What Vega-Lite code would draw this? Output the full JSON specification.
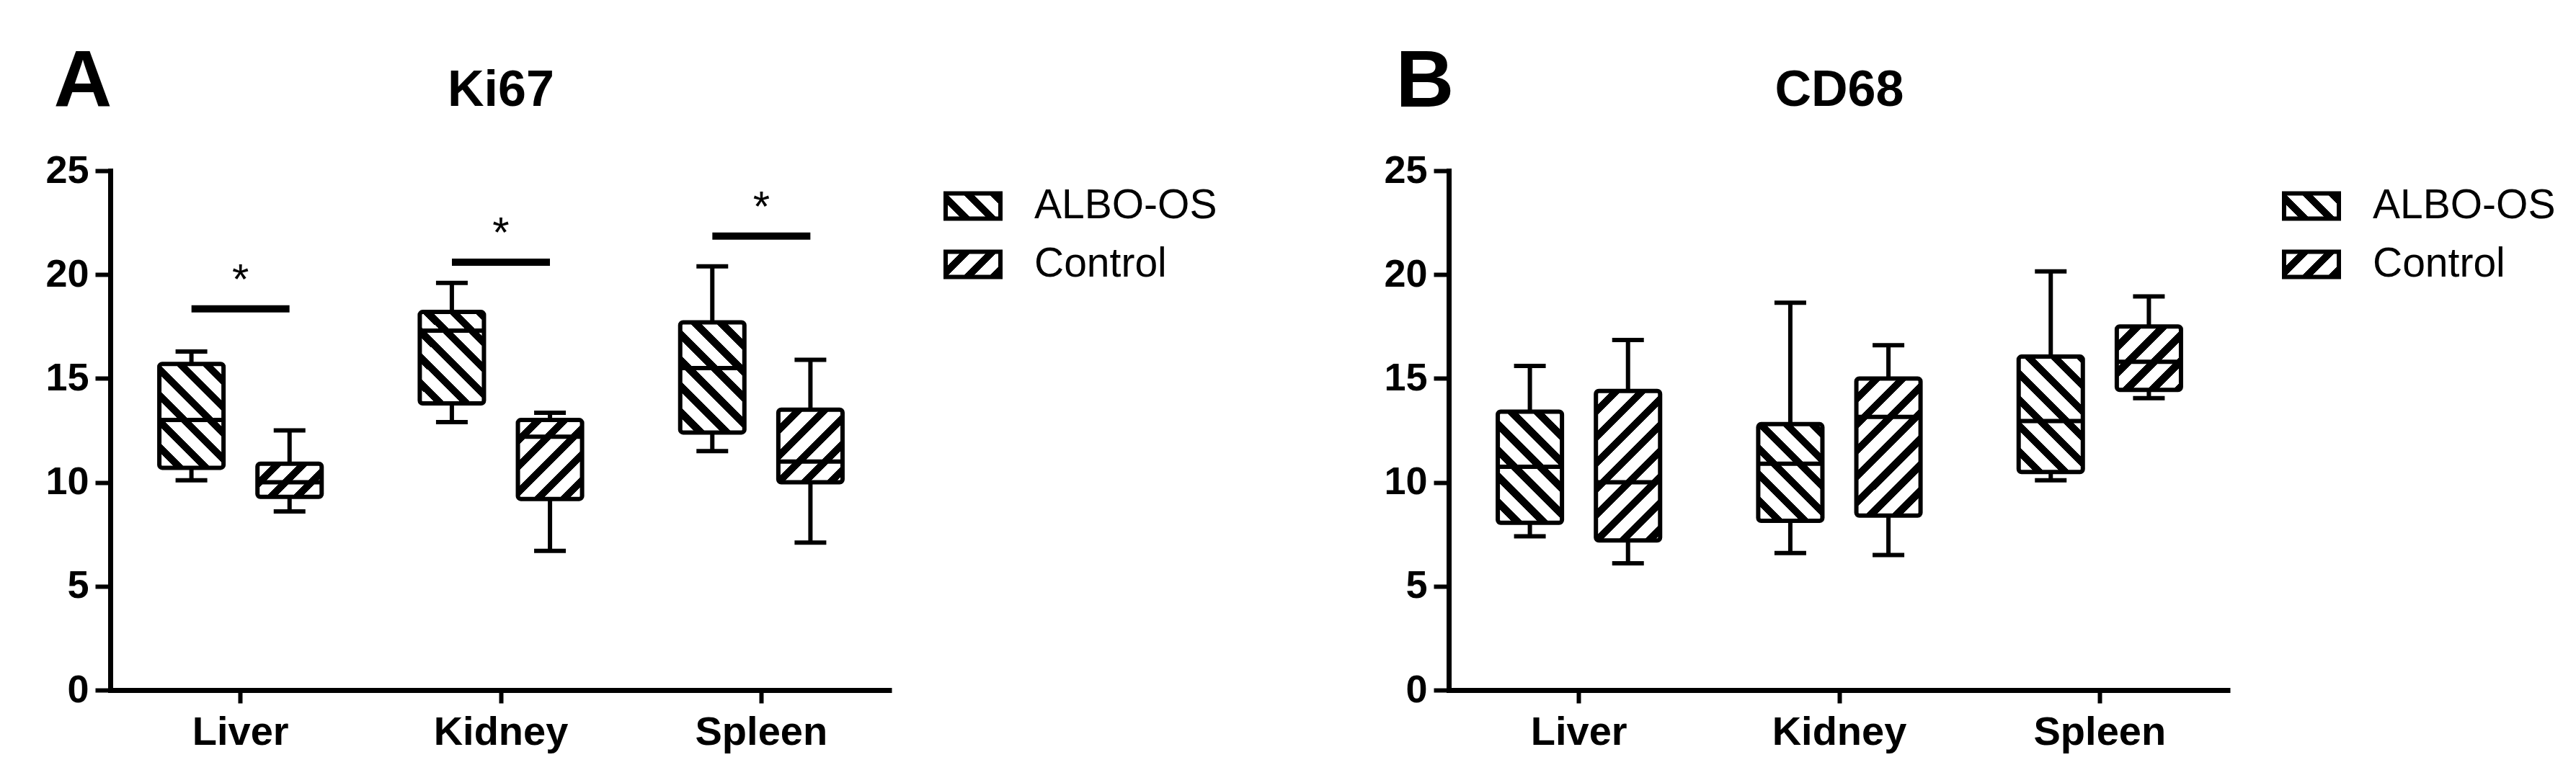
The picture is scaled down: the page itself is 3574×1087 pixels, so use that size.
{
"$schema":"https://vega.github.io/schema/vega-lite/v6.json",
"background":"white",
"padding":{"left":62,"top":57,"right":5,"bottom":5},
"spacing":222,
"config":{"font":"Liberation Sans","view":{"stroke":null},"axis":{"grid":false}},
"resolve":{"scale":{"fill":"independent","x":"independent","y":"independent","xOffset":"independent"},"legend":{"fill":"independent"}},
"datasets":{
"boxesA":[
{"organ":"Liver","group":"ALBO-OS","min":10.1,"q1":10.7,"median":13.0,"q3":15.7,"max":16.3},
{"organ":"Liver","group":"Control","min":8.6,"q1":9.3,"median":10.0,"q3":10.9,"max":12.5},
{"organ":"Kidney","group":"ALBO-OS","min":12.9,"q1":13.8,"median":17.3,"q3":18.2,"max":19.6},
{"organ":"Kidney","group":"Control","min":6.7,"q1":9.2,"median":12.2,"q3":13.0,"max":13.35},
{"organ":"Spleen","group":"ALBO-OS","min":11.5,"q1":12.4,"median":15.5,"q3":17.7,"max":20.4},
{"organ":"Spleen","group":"Control","min":7.1,"q1":10.0,"median":11.0,"q3":13.5,"max":15.9}
],
"boxesB":[
{"organ":"Liver","group":"ALBO-OS","min":7.4,"q1":8.05,"median":10.75,"q3":13.4,"max":15.6},
{"organ":"Liver","group":"Control","min":6.1,"q1":7.2,"median":10.0,"q3":14.4,"max":16.85},
{"organ":"Kidney","group":"ALBO-OS","min":6.6,"q1":8.15,"median":10.9,"q3":12.8,"max":18.65},
{"organ":"Kidney","group":"Control","min":6.5,"q1":8.4,"median":13.15,"q3":15.0,"max":16.6},
{"organ":"Spleen","group":"ALBO-OS","min":10.1,"q1":10.5,"median":12.95,"q3":16.05,"max":20.15},
{"organ":"Spleen","group":"Control","min":14.05,"q1":14.45,"median":15.8,"q3":17.5,"max":18.95}
],
"sigA":[
{"organ":"Liver","sig":18.35,"label":"*"},
{"organ":"Kidney","sig":20.6,"label":"*"},
{"organ":"Spleen","sig":21.85,"label":"*"}
]
},
"hconcat":[
{
"width":1084,"height":721,
"title":{"text":"Ki67","fontSize":70,"fontWeight":"bold","color":"black","baseline":"alphabetic","offset":-160,"anchor":"middle","frame":"group"},
"data":{"name":"boxesA"},
"encoding":{
"x":{"field":"organ","type":"nominal","sort":["Liver","Kidney","Spleen"],"scale":{"paddingInner":0,"paddingOuter":0},
"axis":{"title":null,"labelAngle":0,"labelLimit":500,"domainColor":"black","domainWidth":7,"tickColor":"black","tickWidth":6,"tickSize":18,"labelPadding":13,"labelFontSize":56,"labelFontWeight":"bold","labelColor":"black","labelFont":"Liberation Sans"}}
},
"layer":[
{"mark":{"type":"rule","color":"black","strokeWidth":6},
"encoding":{"xOffset":{"field":"group","type":"nominal","sort":["ALBO-OS","Control"],"scale":{"paddingInner":0.346,"paddingOuter":0.5}},
"y":{"field":"min","type":"quantitative","scale":{"domain":[0,25],"nice":false,"zero":true},
"axis":{"title":"A","titleAngle":0,"titleX":-79,"titleY":-90,"titleAlign":"left","titleBaseline":"alphabetic","titleFontSize":112,"titleFontWeight":"bold","titleColor":"black","titleFont":"Liberation Sans","values":[0,5,10,15,20,25],"domainColor":"black","domainWidth":7,"domainCap":"square","tickColor":"black","tickWidth":6,"tickSize":21,"labelPadding":9,"labelFontSize":54,"labelFontWeight":"bold","labelColor":"black","labelFont":"Liberation Sans"}},
"y2":{"field":"max"}}},
{"mark":{"type":"tick","color":"black","size":44,"thickness":6,"opacity":1},
"encoding":{"xOffset":{"field":"group","type":"nominal","sort":["ALBO-OS","Control"]},"y":{"field":"min","type":"quantitative"}}},
{"mark":{"type":"tick","color":"black","size":44,"thickness":6,"opacity":1},
"encoding":{"xOffset":{"field":"group","type":"nominal","sort":["ALBO-OS","Control"]},"y":{"field":"max","type":"quantitative"}}},
{"mark":{"type":"bar","stroke":"black","strokeWidth":6,"cornerRadius":4,"opacity":1},
"encoding":{"xOffset":{"field":"group","type":"nominal","sort":["ALBO-OS","Control"]},"y":{"field":"q1","type":"quantitative"},"y2":{"field":"q3"},
"fill":{"field":"group","type":"nominal","sort":["ALBO-OS","Control"],
"scale":{"range":[{"expr":"{gradient:'linear',x1:0,y1:1,x2:3.2567,y2:-0.4998,stops:[{offset:0,color:'#fff'},{offset:0.072,color:'#fff'},{offset:0.072,color:'#000'},{offset:0.12,color:'#000'},{offset:0.12,color:'#fff'},{offset:0.192,color:'#fff'},{offset:0.192,color:'#000'},{offset:0.24,color:'#000'},{offset:0.24,color:'#fff'},{offset:0.312,color:'#fff'},{offset:0.312,color:'#000'},{offset:0.36,color:'#000'},{offset:0.36,color:'#fff'},{offset:1,color:'#fff'}]}"},{"expr":"{gradient:'linear',x1:0,y1:0,x2:3.2567,y2:1.4998,stops:[{offset:0,color:'#fff'},{offset:0.072,color:'#fff'},{offset:0.072,color:'#000'},{offset:0.12,color:'#000'},{offset:0.12,color:'#fff'},{offset:0.192,color:'#fff'},{offset:0.192,color:'#000'},{offset:0.24,color:'#000'},{offset:0.24,color:'#fff'},{offset:0.312,color:'#fff'},{offset:0.312,color:'#000'},{offset:0.36,color:'#000'},{offset:0.36,color:'#fff'},{offset:1,color:'#fff'}]}"}]},
"legend":{"title":null,"orient":"right","offset":64,"padding":8,"symbolType":"M-1,-0.46H1V0.46H-1Z","symbolSize":5776,"symbolStrokeColor":"black","symbolStrokeWidth":6,"symbolOpacity":1,"labelFontSize":57,"labelFont":"Liberation Sans","labelColor":"black","labelOffset":44,"labelLimit":600,"rowPadding":10},
"condition":[
{"test":"datum.organ==='Liver'&&datum.group==='ALBO-OS'","value":{"gradient":"linear","x1":0,"y1":1,"x2":0.9298,"y2":-0.5065,"stops":[{"offset":0,"color":"#fff"},{"offset":0.072,"color":"#fff"},{"offset":0.072,"color":"#000"},{"offset":0.12,"color":"#000"},{"offset":0.12,"color":"#fff"},{"offset":0.192,"color":"#fff"},{"offset":0.192,"color":"#000"},{"offset":0.24,"color":"#000"},{"offset":0.24,"color":"#fff"},{"offset":0.312,"color":"#fff"},{"offset":0.312,"color":"#000"},{"offset":0.36,"color":"#000"},{"offset":0.36,"color":"#fff"},{"offset":0.432,"color":"#fff"},{"offset":0.432,"color":"#000"},{"offset":0.48,"color":"#000"},{"offset":0.48,"color":"#fff"},{"offset":0.552,"color":"#fff"},{"offset":0.552,"color":"#000"},{"offset":0.6,"color":"#000"},{"offset":0.6,"color":"#fff"},{"offset":0.672,"color":"#fff"},{"offset":0.672,"color":"#000"},{"offset":0.72,"color":"#000"},{"offset":0.72,"color":"#fff"},{"offset":0.792,"color":"#fff"},{"offset":0.792,"color":"#000"},{"offset":0.84,"color":"#000"},{"offset":0.84,"color":"#fff"},{"offset":0.912,"color":"#fff"},{"offset":0.912,"color":"#000"},{"offset":0.96,"color":"#000"},{"offset":0.96,"color":"#fff"},{"offset":1,"color":"#fff"}]}},
{"test":"datum.organ==='Liver'&&datum.group==='Control'","value":{"gradient":"linear","x1":0,"y1":0,"x2":2.6578,"y2":1.3767,"stops":[{"offset":0,"color":"#fff"},{"offset":0.072,"color":"#fff"},{"offset":0.072,"color":"#000"},{"offset":0.12,"color":"#000"},{"offset":0.12,"color":"#fff"},{"offset":0.192,"color":"#fff"},{"offset":0.192,"color":"#000"},{"offset":0.24,"color":"#000"},{"offset":0.24,"color":"#fff"},{"offset":0.312,"color":"#fff"},{"offset":0.312,"color":"#000"},{"offset":0.36,"color":"#000"},{"offset":0.36,"color":"#fff"},{"offset":0.432,"color":"#fff"},{"offset":0.432,"color":"#000"},{"offset":0.48,"color":"#000"},{"offset":0.48,"color":"#fff"},{"offset":0.552,"color":"#fff"},{"offset":0.552,"color":"#000"},{"offset":0.6,"color":"#000"},{"offset":0.6,"color":"#fff"},{"offset":1,"color":"#fff"}]}},
{"test":"datum.organ==='Kidney'&&datum.group==='ALBO-OS'","value":{"gradient":"linear","x1":0,"y1":1,"x2":1.1113,"y2":-0.5846,"stops":[{"offset":0,"color":"#fff"},{"offset":0.072,"color":"#fff"},{"offset":0.072,"color":"#000"},{"offset":0.12,"color":"#000"},{"offset":0.12,"color":"#fff"},{"offset":0.192,"color":"#fff"},{"offset":0.192,"color":"#000"},{"offset":0.24,"color":"#000"},{"offset":0.24,"color":"#fff"},{"offset":0.312,"color":"#fff"},{"offset":0.312,"color":"#000"},{"offset":0.36,"color":"#000"},{"offset":0.36,"color":"#fff"},{"offset":0.432,"color":"#fff"},{"offset":0.432,"color":"#000"},{"offset":0.48,"color":"#000"},{"offset":0.48,"color":"#fff"},{"offset":0.552,"color":"#fff"},{"offset":0.552,"color":"#000"},{"offset":0.6,"color":"#000"},{"offset":0.6,"color":"#fff"},{"offset":0.672,"color":"#fff"},{"offset":0.672,"color":"#000"},{"offset":0.72,"color":"#000"},{"offset":0.72,"color":"#fff"},{"offset":1,"color":"#fff"}]}},
{"test":"datum.organ==='Kidney'&&datum.group==='Control'","value":{"gradient":"linear","x1":0,"y1":0,"x2":1.3395,"y2":1.6495,"stops":[{"offset":0,"color":"#fff"},{"offset":0.072,"color":"#fff"},{"offset":0.072,"color":"#000"},{"offset":0.12,"color":"#000"},{"offset":0.12,"color":"#fff"},{"offset":0.192,"color":"#fff"},{"offset":0.192,"color":"#000"},{"offset":0.24,"color":"#000"},{"offset":0.24,"color":"#fff"},{"offset":0.312,"color":"#fff"},{"offset":0.312,"color":"#000"},{"offset":0.36,"color":"#000"},{"offset":0.36,"color":"#fff"},{"offset":0.432,"color":"#fff"},{"offset":0.432,"color":"#000"},{"offset":0.48,"color":"#000"},{"offset":0.48,"color":"#fff"},{"offset":0.552,"color":"#fff"},{"offset":0.552,"color":"#000"},{"offset":0.6,"color":"#000"},{"offset":0.6,"color":"#fff"},{"offset":0.672,"color":"#fff"},{"offset":0.672,"color":"#000"},{"offset":0.72,"color":"#000"},{"offset":0.72,"color":"#fff"},{"offset":1,"color":"#fff"}]}},
{"test":"datum.organ==='Spleen'&&datum.group==='ALBO-OS'","value":{"gradient":"linear","x1":0,"y1":1,"x2":0.8531,"y2":-0.4655,"stops":[{"offset":0,"color":"#fff"},{"offset":0.072,"color":"#fff"},{"offset":0.072,"color":"#000"},{"offset":0.12,"color":"#000"},{"offset":0.12,"color":"#fff"},{"offset":0.192,"color":"#fff"},{"offset":0.192,"color":"#000"},{"offset":0.24,"color":"#000"},{"offset":0.24,"color":"#fff"},{"offset":0.312,"color":"#fff"},{"offset":0.312,"color":"#000"},{"offset":0.36,"color":"#000"},{"offset":0.36,"color":"#fff"},{"offset":0.432,"color":"#fff"},{"offset":0.432,"color":"#000"},{"offset":0.48,"color":"#000"},{"offset":0.48,"color":"#fff"},{"offset":0.552,"color":"#fff"},{"offset":0.552,"color":"#000"},{"offset":0.6,"color":"#000"},{"offset":0.6,"color":"#fff"},{"offset":0.672,"color":"#fff"},{"offset":0.672,"color":"#000"},{"offset":0.72,"color":"#000"},{"offset":0.72,"color":"#fff"},{"offset":0.792,"color":"#fff"},{"offset":0.792,"color":"#000"},{"offset":0.84,"color":"#000"},{"offset":0.84,"color":"#fff"},{"offset":1,"color":"#fff"}]}},
{"test":"datum.organ==='Spleen'&&datum.group==='Control'","value":{"gradient":"linear","x1":0,"y1":0,"x2":1.475,"y2":1.6722,"stops":[{"offset":0,"color":"#fff"},{"offset":0.072,"color":"#fff"},{"offset":0.072,"color":"#000"},{"offset":0.12,"color":"#000"},{"offset":0.12,"color":"#fff"},{"offset":0.192,"color":"#fff"},{"offset":0.192,"color":"#000"},{"offset":0.24,"color":"#000"},{"offset":0.24,"color":"#fff"},{"offset":0.312,"color":"#fff"},{"offset":0.312,"color":"#000"},{"offset":0.36,"color":"#000"},{"offset":0.36,"color":"#fff"},{"offset":0.432,"color":"#fff"},{"offset":0.432,"color":"#000"},{"offset":0.48,"color":"#000"},{"offset":0.48,"color":"#fff"},{"offset":0.552,"color":"#fff"},{"offset":0.552,"color":"#000"},{"offset":0.6,"color":"#000"},{"offset":0.6,"color":"#fff"},{"offset":0.672,"color":"#fff"},{"offset":0.672,"color":"#000"},{"offset":0.72,"color":"#000"},{"offset":0.72,"color":"#fff"},{"offset":1,"color":"#fff"}]}}
]}}},
{"mark":{"type":"tick","color":"black","size":89,"thickness":6,"opacity":1},
"encoding":{"xOffset":{"field":"group","type":"nominal","sort":["ALBO-OS","Control"]},"y":{"field":"median","type":"quantitative"}}},
{"data":{"name":"sigA"},"mark":{"type":"tick","color":"black","size":136,"thickness":10,"opacity":1},
"encoding":{"y":{"field":"sig","type":"quantitative"}}},
{"data":{"name":"sigA"},"mark":{"type":"text","color":"black","fontSize":60,"baseline":"alphabetic","align":"center","dy":-21,"font":"Liberation Sans"},
"encoding":{"y":{"field":"sig","type":"quantitative"},"text":{"field":"label"}}}
]
},
{
"width":1084,"height":721,
"title":{"text":"CD68","fontSize":70,"fontWeight":"bold","color":"black","baseline":"alphabetic","offset":-160,"anchor":"middle","frame":"group"},
"data":{"name":"boxesB"},
"encoding":{
"x":{"field":"organ","type":"nominal","sort":["Liver","Kidney","Spleen"],"scale":{"paddingInner":0,"paddingOuter":0},
"axis":{"title":null,"labelAngle":0,"labelLimit":500,"domainColor":"black","domainWidth":7,"tickColor":"black","tickWidth":6,"tickSize":18,"labelPadding":13,"labelFontSize":56,"labelFontWeight":"bold","labelColor":"black","labelFont":"Liberation Sans"}}
},
"layer":[
{"mark":{"type":"rule","color":"black","strokeWidth":6},
"encoding":{"xOffset":{"field":"group","type":"nominal","sort":["ALBO-OS","Control"],"scale":{"paddingInner":0.346,"paddingOuter":0.5}},
"y":{"field":"min","type":"quantitative","scale":{"domain":[0,25],"nice":false,"zero":true},
"axis":{"title":"B","titleAngle":0,"titleX":-74,"titleY":-90,"titleAlign":"left","titleBaseline":"alphabetic","titleFontSize":112,"titleFontWeight":"bold","titleColor":"black","titleFont":"Liberation Sans","values":[0,5,10,15,20,25],"domainColor":"black","domainWidth":7,"domainCap":"square","tickColor":"black","tickWidth":6,"tickSize":21,"labelPadding":9,"labelFontSize":54,"labelFontWeight":"bold","labelColor":"black","labelFont":"Liberation Sans"}},
"y2":{"field":"max"}}},
{"mark":{"type":"tick","color":"black","size":44,"thickness":6,"opacity":1},
"encoding":{"xOffset":{"field":"group","type":"nominal","sort":["ALBO-OS","Control"]},"y":{"field":"min","type":"quantitative"}}},
{"mark":{"type":"tick","color":"black","size":44,"thickness":6,"opacity":1},
"encoding":{"xOffset":{"field":"group","type":"nominal","sort":["ALBO-OS","Control"]},"y":{"field":"max","type":"quantitative"}}},
{"mark":{"type":"bar","stroke":"black","strokeWidth":6,"cornerRadius":4,"opacity":1},
"encoding":{"xOffset":{"field":"group","type":"nominal","sort":["ALBO-OS","Control"]},"y":{"field":"q1","type":"quantitative"},"y2":{"field":"q3"},
"fill":{"field":"group","type":"nominal","sort":["ALBO-OS","Control"],
"scale":{"range":[{"expr":"{gradient:'linear',x1:0,y1:1,x2:3.2567,y2:-0.4998,stops:[{offset:0,color:'#fff'},{offset:0.072,color:'#fff'},{offset:0.072,color:'#000'},{offset:0.12,color:'#000'},{offset:0.12,color:'#fff'},{offset:0.192,color:'#fff'},{offset:0.192,color:'#000'},{offset:0.24,color:'#000'},{offset:0.24,color:'#fff'},{offset:0.312,color:'#fff'},{offset:0.312,color:'#000'},{offset:0.36,color:'#000'},{offset:0.36,color:'#fff'},{offset:1,color:'#fff'}]}"},{"expr":"{gradient:'linear',x1:0,y1:0,x2:3.2567,y2:1.4998,stops:[{offset:0,color:'#fff'},{offset:0.072,color:'#fff'},{offset:0.072,color:'#000'},{offset:0.12,color:'#000'},{offset:0.12,color:'#fff'},{offset:0.192,color:'#fff'},{offset:0.192,color:'#000'},{offset:0.24,color:'#000'},{offset:0.24,color:'#fff'},{offset:0.312,color:'#fff'},{offset:0.312,color:'#000'},{offset:0.36,color:'#000'},{offset:0.36,color:'#fff'},{offset:1,color:'#fff'}]}"}]},
"legend":{"title":null,"orient":"right","offset":64,"padding":8,"symbolType":"M-1,-0.46H1V0.46H-1Z","symbolSize":5776,"symbolStrokeColor":"black","symbolStrokeWidth":6,"symbolOpacity":1,"labelFontSize":57,"labelFont":"Liberation Sans","labelColor":"black","labelOffset":44,"labelLimit":600,"rowPadding":10},
"condition":[
{"test":"datum.organ==='Liver'&&datum.group==='ALBO-OS'","value":{"gradient":"linear","x1":0,"y1":1,"x2":0.8415,"y2":-0.4589,"stops":[{"offset":0,"color":"#fff"},{"offset":0.072,"color":"#fff"},{"offset":0.072,"color":"#000"},{"offset":0.12,"color":"#000"},{"offset":0.12,"color":"#fff"},{"offset":0.192,"color":"#fff"},{"offset":0.192,"color":"#000"},{"offset":0.24,"color":"#000"},{"offset":0.24,"color":"#fff"},{"offset":0.312,"color":"#fff"},{"offset":0.312,"color":"#000"},{"offset":0.36,"color":"#000"},{"offset":0.36,"color":"#fff"},{"offset":0.432,"color":"#fff"},{"offset":0.432,"color":"#000"},{"offset":0.48,"color":"#000"},{"offset":0.48,"color":"#fff"},{"offset":0.552,"color":"#fff"},{"offset":0.552,"color":"#000"},{"offset":0.6,"color":"#000"},{"offset":0.6,"color":"#fff"},{"offset":0.672,"color":"#fff"},{"offset":0.672,"color":"#000"},{"offset":0.72,"color":"#000"},{"offset":0.72,"color":"#fff"},{"offset":0.792,"color":"#fff"},{"offset":0.792,"color":"#000"},{"offset":0.84,"color":"#000"},{"offset":0.84,"color":"#fff"},{"offset":1,"color":"#fff"}]}},
{"test":"datum.organ==='Liver'&&datum.group==='Control'","value":{"gradient":"linear","x1":0,"y1":0,"x2":0.5233,"y2":1.2207,"stops":[{"offset":0,"color":"#fff"},{"offset":0.072,"color":"#fff"},{"offset":0.072,"color":"#000"},{"offset":0.12,"color":"#000"},{"offset":0.12,"color":"#fff"},{"offset":0.192,"color":"#fff"},{"offset":0.192,"color":"#000"},{"offset":0.24,"color":"#000"},{"offset":0.24,"color":"#fff"},{"offset":0.312,"color":"#fff"},{"offset":0.312,"color":"#000"},{"offset":0.36,"color":"#000"},{"offset":0.36,"color":"#fff"},{"offset":0.432,"color":"#fff"},{"offset":0.432,"color":"#000"},{"offset":0.48,"color":"#000"},{"offset":0.48,"color":"#fff"},{"offset":0.552,"color":"#fff"},{"offset":0.552,"color":"#000"},{"offset":0.6,"color":"#000"},{"offset":0.6,"color":"#fff"},{"offset":0.672,"color":"#fff"},{"offset":0.672,"color":"#000"},{"offset":0.72,"color":"#000"},{"offset":0.72,"color":"#fff"},{"offset":0.792,"color":"#fff"},{"offset":0.792,"color":"#000"},{"offset":0.84,"color":"#000"},{"offset":0.84,"color":"#fff"},{"offset":0.912,"color":"#fff"},{"offset":0.912,"color":"#000"},{"offset":0.96,"color":"#000"},{"offset":0.96,"color":"#fff"},{"offset":1,"color":"#fff"}]}},
{"test":"datum.organ==='Kidney'&&datum.group==='ALBO-OS'","value":{"gradient":"linear","x1":0,"y1":1,"x2":1.0307,"y2":-0.553,"stops":[{"offset":0,"color":"#fff"},{"offset":0.072,"color":"#fff"},{"offset":0.072,"color":"#000"},{"offset":0.12,"color":"#000"},{"offset":0.12,"color":"#fff"},{"offset":0.192,"color":"#fff"},{"offset":0.192,"color":"#000"},{"offset":0.24,"color":"#000"},{"offset":0.24,"color":"#fff"},{"offset":0.312,"color":"#fff"},{"offset":0.312,"color":"#000"},{"offset":0.36,"color":"#000"},{"offset":0.36,"color":"#fff"},{"offset":0.432,"color":"#fff"},{"offset":0.432,"color":"#000"},{"offset":0.48,"color":"#000"},{"offset":0.48,"color":"#fff"},{"offset":0.552,"color":"#fff"},{"offset":0.552,"color":"#000"},{"offset":0.6,"color":"#000"},{"offset":0.6,"color":"#fff"},{"offset":0.672,"color":"#fff"},{"offset":0.672,"color":"#000"},{"offset":0.72,"color":"#000"},{"offset":0.72,"color":"#fff"},{"offset":1,"color":"#fff"}]}},
{"test":"datum.organ==='Kidney'&&datum.group==='Control'","value":{"gradient":"linear","x1":0,"y1":0,"x2":0.605,"y2":1.2935,"stops":[{"offset":0,"color":"#fff"},{"offset":0.072,"color":"#fff"},{"offset":0.072,"color":"#000"},{"offset":0.12,"color":"#000"},{"offset":0.12,"color":"#fff"},{"offset":0.192,"color":"#fff"},{"offset":0.192,"color":"#000"},{"offset":0.24,"color":"#000"},{"offset":0.24,"color":"#fff"},{"offset":0.312,"color":"#fff"},{"offset":0.312,"color":"#000"},{"offset":0.36,"color":"#000"},{"offset":0.36,"color":"#fff"},{"offset":0.432,"color":"#fff"},{"offset":0.432,"color":"#000"},{"offset":0.48,"color":"#000"},{"offset":0.48,"color":"#fff"},{"offset":0.552,"color":"#fff"},{"offset":0.552,"color":"#000"},{"offset":0.6,"color":"#000"},{"offset":0.6,"color":"#fff"},{"offset":0.672,"color":"#fff"},{"offset":0.672,"color":"#000"},{"offset":0.72,"color":"#000"},{"offset":0.72,"color":"#fff"},{"offset":0.792,"color":"#fff"},{"offset":0.792,"color":"#000"},{"offset":0.84,"color":"#000"},{"offset":0.84,"color":"#fff"},{"offset":0.912,"color":"#fff"},{"offset":0.912,"color":"#000"},{"offset":0.96,"color":"#000"},{"offset":0.96,"color":"#fff"},{"offset":1,"color":"#fff"}]}},
{"test":"datum.organ==='Spleen'&&datum.group==='ALBO-OS'","value":{"gradient":"linear","x1":0,"y1":1,"x2":0.7958,"y2":-0.4315,"stops":[{"offset":0,"color":"#fff"},{"offset":0.072,"color":"#fff"},{"offset":0.072,"color":"#000"},{"offset":0.12,"color":"#000"},{"offset":0.12,"color":"#fff"},{"offset":0.192,"color":"#fff"},{"offset":0.192,"color":"#000"},{"offset":0.24,"color":"#000"},{"offset":0.24,"color":"#fff"},{"offset":0.312,"color":"#fff"},{"offset":0.312,"color":"#000"},{"offset":0.36,"color":"#000"},{"offset":0.36,"color":"#fff"},{"offset":0.432,"color":"#fff"},{"offset":0.432,"color":"#000"},{"offset":0.48,"color":"#000"},{"offset":0.48,"color":"#fff"},{"offset":0.552,"color":"#fff"},{"offset":0.552,"color":"#000"},{"offset":0.6,"color":"#000"},{"offset":0.6,"color":"#fff"},{"offset":0.672,"color":"#fff"},{"offset":0.672,"color":"#000"},{"offset":0.72,"color":"#000"},{"offset":0.72,"color":"#fff"},{"offset":0.792,"color":"#fff"},{"offset":0.792,"color":"#000"},{"offset":0.84,"color":"#000"},{"offset":0.84,"color":"#fff"},{"offset":1,"color":"#fff"}]}},
{"test":"datum.organ==='Spleen'&&datum.group==='Control'","value":{"gradient":"linear","x1":0,"y1":0,"x2":1.7044,"y2":1.6853,"stops":[{"offset":0,"color":"#fff"},{"offset":0.072,"color":"#fff"},{"offset":0.072,"color":"#000"},{"offset":0.12,"color":"#000"},{"offset":0.12,"color":"#fff"},{"offset":0.192,"color":"#fff"},{"offset":0.192,"color":"#000"},{"offset":0.24,"color":"#000"},{"offset":0.24,"color":"#fff"},{"offset":0.312,"color":"#fff"},{"offset":0.312,"color":"#000"},{"offset":0.36,"color":"#000"},{"offset":0.36,"color":"#fff"},{"offset":0.432,"color":"#fff"},{"offset":0.432,"color":"#000"},{"offset":0.48,"color":"#000"},{"offset":0.48,"color":"#fff"},{"offset":0.552,"color":"#fff"},{"offset":0.552,"color":"#000"},{"offset":0.6,"color":"#000"},{"offset":0.6,"color":"#fff"},{"offset":1,"color":"#fff"}]}}
]}}},
{"mark":{"type":"tick","color":"black","size":89,"thickness":6,"opacity":1},
"encoding":{"xOffset":{"field":"group","type":"nominal","sort":["ALBO-OS","Control"]},"y":{"field":"median","type":"quantitative"}}}
]
}
]
}
